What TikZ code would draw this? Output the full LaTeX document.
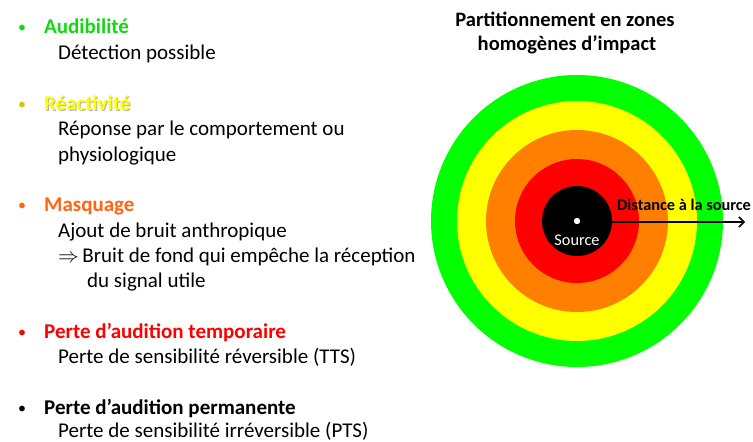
\documentclass[tikz,border=0pt]{standalone}
\usepackage{fontspec}
\setmainfont{Carlito}
\usetikzlibrary{arrows.meta}
\definecolor{zgreen}{RGB}{0,255,0}
\definecolor{zyellow}{RGB}{255,255,0}
\definecolor{zorange}{RGB}{255,128,0}
\definecolor{zred}{RGB}{255,0,0}
\definecolor{tgreen}{RGB}{20,215,20}
\definecolor{torange}{RGB}{255,102,20}
\tikzset{
  txt/.style={anchor=base west, inner sep=0pt, font=\fontsize{21}{25}\selectfont},
  head/.style={txt, font=\fontsize{21}{25}\selectfont\bfseries},
  dot/.style={anchor=base, inner sep=0pt, font=\fontsize{16}{20}\selectfont},
  ttl/.style={anchor=base, inner sep=0pt, font=\fontsize{20.5}{25}\selectfont\bfseries}
}
\begin{document}
\begin{tikzpicture}[x=1pt,y=-1pt]
            \useasboundingbox (0,0) rectangle (753,442);
            % liste des effets
            \node[dot,tgreen] (b1) at (22,32) {•};
            \node[head,tgreen] (h1) at (44,33) {Audibilité};
            \node[txt] (t1) at (58,59) {Détection possible};
            \node[dot,zyellow!80!black] (b2) at (22,109) {•};
            \node[head,gray!60] (h2s) at (45,111) {Réactivité};
            \node[head,zyellow] (h2) at (44,110) {Réactivité};
            \node[txt] (t2) at (58,135.5) {Réponse par le comportement ou};
            \node[txt] (t3) at (58,161) {physiologique};
            \node[dot,torange] (b3) at (22,210) {•};
            \node[head,torange] (h3) at (44,211) {Masquage};
            \node[txt] (t4) at (58,237) {Ajout de bruit anthropique};
            \node[txt] (t5) at (58,262) {$\Rightarrow$\,Bruit de fond qui empêche la réception};
            \node[txt] (t6) at (87,287) {du signal utile};
            \node[dot,zred] (b4) at (22,337) {•};
            \node[head,zred] (h4) at (44,338) {Perte d’audition temporaire};
            \node[txt] (t7) at (58,363) {Perte de sensibilité réversible (TTS)};
            \node[dot] (b5) at (22,413) {•};
            \node[head] (h5) at (44,414) {Perte d’audition permanente};
            \node[txt] (t8) at (58,437.5) {Perte de sensibilité irréversible (PTS)};
            % zones autour de la source
            \node[ttl] (titre1) at (565,26) {Partitionnement en zones};
            \node[ttl] (titre2) at (567,50) {homogènes d’impact};
            \coordinate (c) at (577,221);
            \foreach \r/\col in {146/zgreen,120/zyellow,91/zorange,62/zred}
            \fill[\col] (c) circle (\r pt);
            \node[circle, fill=black, minimum size=70pt, inner sep=0pt] (src) at (c) {};
            \fill[white] (c) circle (3.2pt);
            \node[anchor=base, white, inner sep=0pt, font=\fontsize{16.3}{19}\selectfont] (srclab) at (577,245) {Source};
            \coordinate (far) at (745,222);
            \draw[line width=1.5pt, -{Straight Barb[length=5pt,width=10pt]}] (src.east |- far) -- (far);
            \node[anchor=base west, inner sep=0pt, font=\fontsize{16.3}{19}\selectfont\bfseries] (dist) at (617,210) {Distance à la source};
        \end{tikzpicture}
\end{document}
